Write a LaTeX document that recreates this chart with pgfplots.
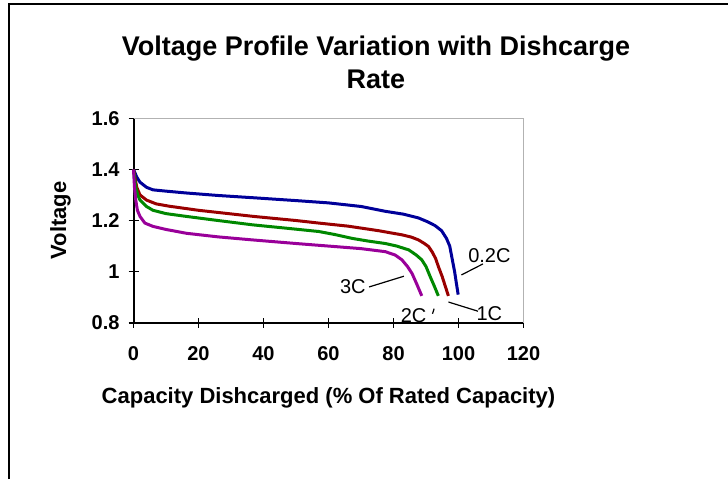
\documentclass[border=0pt]{standalone}
\usepackage{pgfplots}
\pgfplotsset{compat=1.18}
\usepackage{fontspec}
\setmainfont{Liberation Sans}
\definecolor{cBlue}{RGB}{0,0,153}
\definecolor{cRed}{RGB}{153,0,0}
\definecolor{cGreen}{RGB}{0,136,0}
\definecolor{cPurple}{RGB}{153,0,153}
\begin{document}
\begin{tikzpicture}[x=1pt,y=1pt]
\useasboundingbox (0,0) rectangle (364,-239.5);
\draw[line width=1pt] (4.5,-239.5) -- (4.5,-2) -- (364,-2);
\node[anchor=base,font=\bfseries\fontsize{13.5}{15}\selectfont] at (188,-27.5) {Voltage Profile Variation with Dishcarge};
\node[anchor=base,font=\bfseries\fontsize{13.5}{15}\selectfont] at (188,-44) {Rate};
\node[anchor=base,font=\bfseries\fontsize{11}{13}\selectfont] at (164.25,-201.5) {Capacity Dishcarged (\% Of Rated Capacity)};
\node[anchor=base,rotate=90,font=\bfseries\fontsize{11}{13}\selectfont] at (33,-110.25) {Voltage};
\begin{axis}[at={(66.75pt,-161.35pt)}, anchor=south west,
  scale only axis, width=195pt, height=102.2pt,
  xmin=0, xmax=120, ymin=0.8, ymax=1.6,
  xtick={0,20,40,60,80,100,120}, ytick={0.8,1,1.2,1.4,1.6},
  axis lines=left, axis line style={-, line width=1pt},
  tick align=center, major tick length=5pt,
  tick style={black, line width=0.8pt},
  ticklabel style={font=\bfseries\fontsize{10}{12}\selectfont},
  /pgf/number format/assume math mode=true,
  xticklabel style={yshift=-6pt}, yticklabel style={xshift=-1pt},
  clip=false]
\draw[gray!60, line width=0.6pt] (rel axis cs:0,1) -- (rel axis cs:1,1) -- (rel axis cs:1,0);
\addplot[cBlue, line width=1.5pt] coordinates {(0,1.40)(1,1.37)(2,1.35)(4,1.33)(6,1.32)(10,1.315)(16,1.308)(26,1.298)(37,1.289)(50,1.278)(60,1.269)(70,1.255)(77.5,1.236)(83,1.225)(87.7,1.21)(90.5,1.195)(92.8,1.18)(94.8,1.16)(96.3,1.13)(97.3,1.10)(97.9,1.06)(98.8,1.0)(99.4,0.95)(99.9,0.91)};
\addplot[cRed, line width=1.5pt] coordinates {(0,1.40)(1,1.33)(2,1.30)(4,1.28)(7,1.265)(11,1.256)(20,1.24)(37,1.216)(50,1.2)(57,1.19)(66,1.178)(75.5,1.16)(79,1.152)(82.6,1.144)(85.5,1.135)(87.7,1.124)(89.5,1.11)(90.8,1.098)(92,1.075)(93,1.05)(93.8,1.02)(95,0.98)(96,0.94)(96.9,0.905)};
\addplot[cGreen, line width=1.5pt] coordinates {(0,1.40)(0.7,1.33)(1.3,1.30)(2,1.28)(4,1.255)(6,1.24)(10,1.227)(16.3,1.216)(26,1.2)(36.7,1.183)(47,1.17)(57,1.157)(62,1.145)(67.3,1.13)(72,1.12)(77.5,1.11)(81,1.1)(84.7,1.085)(87,1.065)(88.7,1.046)(90,1.02)(91.3,0.98)(92.5,0.945)(93.8,0.905)};
\addplot[cPurple, line width=1.5pt] coordinates {(0,1.40)(0.3,1.33)(0.7,1.28)(1.2,1.24)(2,1.216)(3.5,1.19)(6,1.177)(10,1.165)(16.3,1.15)(26,1.136)(36.7,1.124)(50,1.11)(60,1.10)(70,1.09)(77.5,1.078)(80.5,1.065)(82.6,1.046)(84.3,1.02)(85.7,0.993)(87.2,0.95)(88.7,0.905)};
\draw[black, line width=0.6pt] (axis cs:100.9,0.987) -- (axis cs:107.5,1.03);
\draw[black, line width=0.6pt] (axis cs:96.9,0.881) -- (axis cs:106,0.845);
\draw[black, line width=0.6pt] (axis cs:92.0,0.835) -- (axis cs:92.5,0.855);
\draw[black, line width=0.6pt] (axis cs:72.5,0.94) -- (axis cs:83.2,0.982);
\node[font=\fontsize{10}{11}\selectfont] at (axis cs:109.5,1.063) {0.2C};
\node[font=\fontsize{10}{11}\selectfont] at (axis cs:109.5,0.837) {1C};
\node[font=\fontsize{10}{11}\selectfont] at (axis cs:86.2,0.829) {2C};
\node[font=\fontsize{10}{11}\selectfont] at (axis cs:67.5,0.94) {3C};
\end{axis}
\end{tikzpicture}
\end{document}
